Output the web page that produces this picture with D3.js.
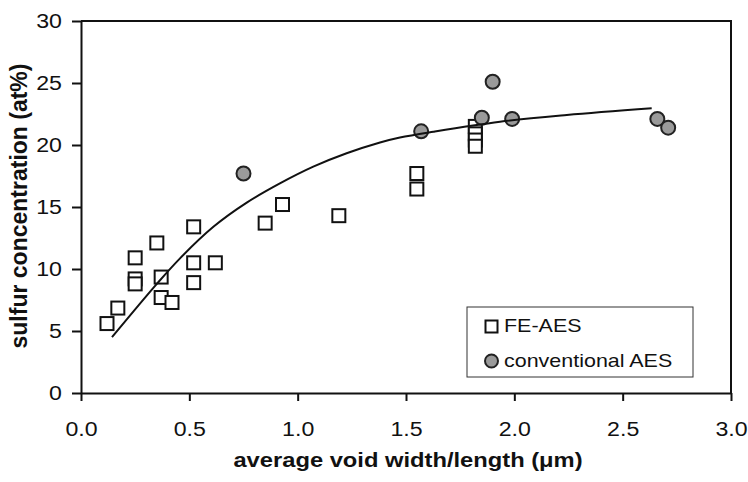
<!DOCTYPE html>
<html>
<head>
<meta charset="utf-8">
<script src="https://cdn.jsdelivr.net/npm/d3@7"></script>
<style>
  body { margin: 0; background: #fff; }
  text { font-family: "Liberation Sans", Arial, Helvetica, sans-serif; fill: #111; }
</style>
</head>
<body>
<div id="chart"></div>
<script>
// FE-AES measurements
var feX = [0.12, 0.17, 0.25, 0.25, 0.25, 0.35, 0.37, 0.37, 0.42, 0.52, 0.52, 0.52, 0.62,
           0.85, 0.93, 1.19, 1.55, 1.55, 1.82, 1.82, 1.82, 1.82];
var feY = [5.6, 6.85, 10.9, 9.2, 8.8, 12.1, 9.35, 7.7, 7.3, 13.4, 10.5, 8.9, 10.5,
           13.7, 15.2, 14.3, 17.7, 16.45, 21.5, 20.9, 20.4, 19.9];

// conventional AES measurements
var convX = [0.75, 1.57, 1.85, 1.90, 1.99, 2.66, 2.71];
var convY = [17.7, 21.1, 22.2, 25.1, 22.1, 22.1, 21.4];

// trend curve
var fitX = [0.143, 0.35, 0.457, 0.611, 0.765, 0.918, 1.072, 1.226, 1.38, 1.472, 1.626, 1.934, 2.242, 2.634];
var fitY = [4.5, 8.8, 10.86, 13.4, 15.35, 16.9, 18.25, 19.33, 20.2, 20.6, 21.07, 21.88, 22.42, 22.96];

var xTicks = [0, 0.5, 1.0, 1.5, 2.0, 2.5, 3.0];
var yTicks = [0, 5, 10, 15, 20, 25, 30];
var legendNames = ["FE-AES", "conventional AES"];

var width = 748,
    height = 482,
    stretch = 1.13;

var x = d3.scaleLinear().domain([0, 3]).range([81, 731]);
var y = d3.scaleLinear().domain([0, 30]).range([393, 21]);

var svg = d3.select("#chart")
    .append("svg")
    .attr("width", width)
    .attr("height", height);

// top and right frame
svg.append("path")
    .attr("d", "M" + x(0) + "," + y(30) + "H" + x(3) + "V" + y(0))
    .attr("fill", "none")
    .attr("stroke", "#111")
    .attr("stroke-width", 2);

var xAxis = svg.append("g")
    .attr("transform", "translate(0," + y(0) + ")")
    .call(d3.axisBottom(x).tickValues(xTicks).tickFormat(d3.format(".1f"))
        .tickSize(8).tickSizeOuter(0).tickPadding(20));

var yAxis = svg.append("g")
    .attr("transform", "translate(" + x(0) + ",0)")
    .call(d3.axisLeft(y).tickValues(yTicks).tickFormat(d3.format("d"))
        .tickSize(9).tickSizeOuter(0).tickPadding(10));

[xAxis, yAxis].forEach(function (g) {
    g.selectAll("path, line").attr("stroke", "#111").attr("stroke-width", 2);
    g.selectAll("text")
        .style("font-size", "20.5px")
        .style("font-family", null)
        .attr("fill", "#111")
        .attr("x", function () { return (+d3.select(this).attr("x") || 0) / stretch; })
        .attr("transform", "scale(" + stretch + ",1)");
});

// axis titles
svg.append("text")
    .attr("transform", "translate(408,467) scale(" + stretch + ",1)")
    .attr("text-anchor", "middle")
    .style("font-size", "21px")
    .style("font-weight", "bold")
    .text("average void width/length (\u03bcm)");

svg.append("text")
    .attr("transform", "translate(27,206) rotate(-90)")
    .attr("text-anchor", "middle")
    .style("font-size", "23px")
    .style("font-weight", "bold")
    .text("sulfur concentration (at%)");

// FE-AES squares
var sq = 13;
svg.append("g").selectAll("rect")
    .data(feX)
    .enter().append("rect")
    .attr("x", function (d) { return x(d) - sq / 2; })
    .attr("y", function (d, i) { return y(feY[i]) - sq / 2; })
    .attr("width", sq)
    .attr("height", sq)
    .attr("fill", "#fff")
    .attr("stroke", "#111")
    .attr("stroke-width", 2);

// conventional AES circles
svg.append("g").selectAll("circle")
    .data(convX)
    .enter().append("circle")
    .attr("cx", function (d) { return x(d); })
    .attr("cy", function (d, i) { return y(convY[i]); })
    .attr("r", 7)
    .attr("fill", "#9a9a9a")
    .attr("stroke", "#222")
    .attr("stroke-width", 2);

// trend line
var line = d3.line()
    .x(function (d) { return x(d); })
    .y(function (d, i) { return y(fitY[i]); })
    .curve(d3.curveCatmullRom.alpha(0.5));

svg.append("path")
    .attr("d", line(fitX))
    .attr("fill", "none")
    .attr("stroke", "#111")
    .attr("stroke-width", 2);

// legend
var legend = svg.append("g").attr("transform", "translate(467,307)");

legend.append("rect")
    .attr("width", 226)
    .attr("height", 70)
    .attr("fill", "#fff")
    .attr("stroke", "#333")
    .attr("stroke-width", 1);

legend.append("rect")
    .attr("x", 18.5).attr("y", 13.5)
    .attr("width", 12).attr("height", 12)
    .attr("fill", "#fff")
    .attr("stroke", "#111")
    .attr("stroke-width", 2);

legend.append("circle")
    .attr("cx", 24.5).attr("cy", 54)
    .attr("r", 6.5)
    .attr("fill", "#9a9a9a")
    .attr("stroke", "#222")
    .attr("stroke-width", 2);

legend.selectAll("text.lab")
    .data(legendNames)
    .enter().append("text")
    .attr("class", "lab")
    .attr("transform", function (d, i) { return "translate(37," + (25 + i * 35) + ") scale(" + stretch + ",1)"; })
    .style("font-size", "19px")
    .text(function (d) { return d; });
</script>
</body>
</html>
